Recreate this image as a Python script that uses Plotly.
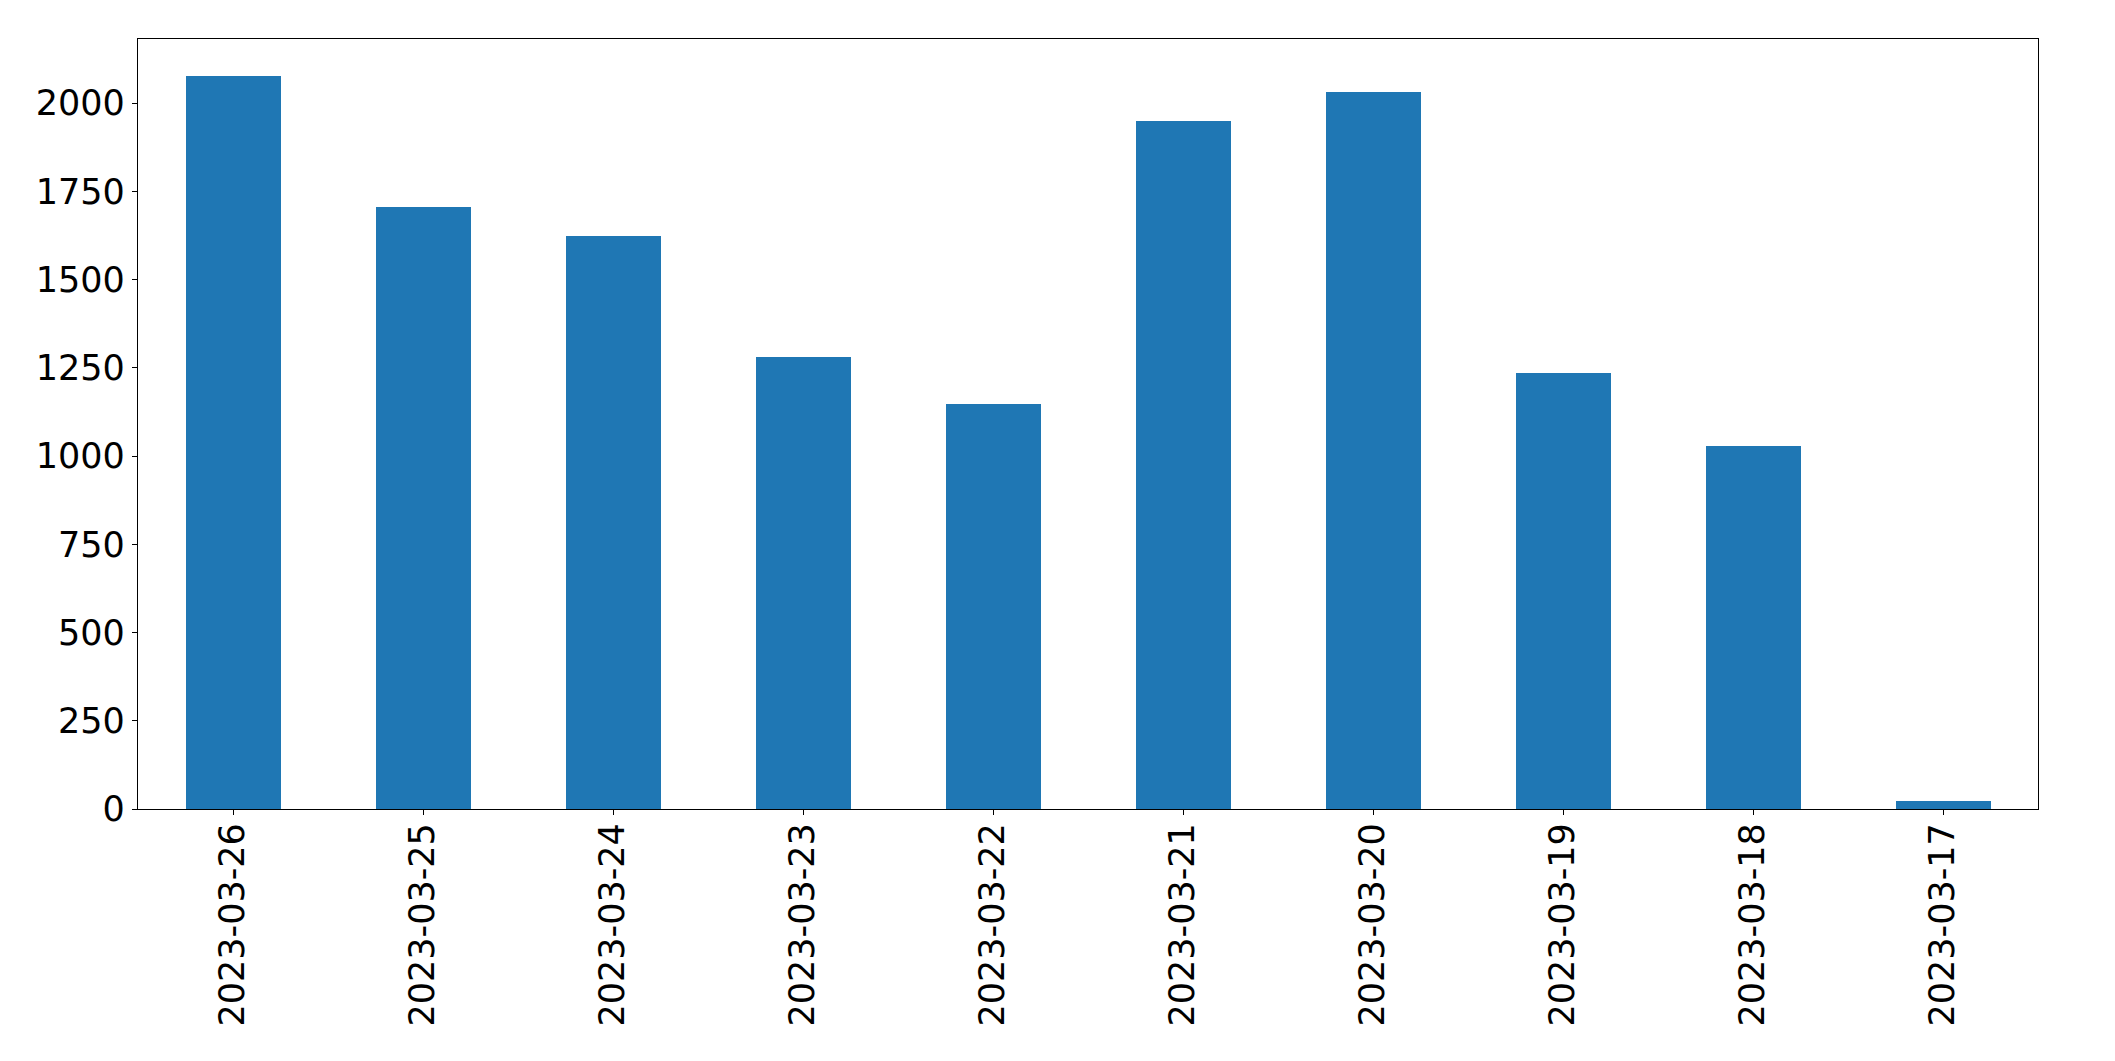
import plotly.graph_objects as go

dates = ["2023-03-26", "2023-03-25", "2023-03-24", "2023-03-23", "2023-03-22",
         "2023-03-21", "2023-03-20", "2023-03-19", "2023-03-18", "2023-03-17"]
counts = [2078, 1705, 1625, 1282, 1147, 1949, 2031, 1236, 1030, 23]
y_ticks = [0, 250, 500, 750, 1000, 1250, 1500, 1750, 2000]

fig = go.Figure(go.Bar(
    x=list(range(len(dates))), y=counts, width=0.5,
    marker=dict(color="#1f77b4", line=dict(width=0)),
))

font = dict(family="DejaVu Sans", size=35, color="black")
fig.update_layout(
    width=2115, height=1061,
    margin=dict(l=130, r=85, t=31, b=260, pad=0),
    paper_bgcolor="white", plot_bgcolor="white",
    showlegend=False, bargap=0,
    font=font,
)
fig.update_xaxes(
    range=[-0.5, len(dates) - 0.5],
    tickmode="array", tickvals=list(range(len(dates))), ticktext=dates,
    tickangle=-90, ticks="outside", ticklen=5, tickwidth=1.3, tickcolor="black",
    showline=True, linecolor="black", linewidth=1.3, mirror=True,
    showgrid=False, zeroline=False, tickfont=font, ticklabelstandoff=-6,
)
fig.update_yaxes(
    range=[0, max(counts) * 1.05],
    tickmode="array", tickvals=y_ticks,
    ticks="outside", ticklen=5, tickwidth=1.3, tickcolor="black",
    showline=True, linecolor="black", linewidth=1.3, mirror=True,
    showgrid=False, zeroline=False, tickfont=font,
)
fig.write_html("out.html")
